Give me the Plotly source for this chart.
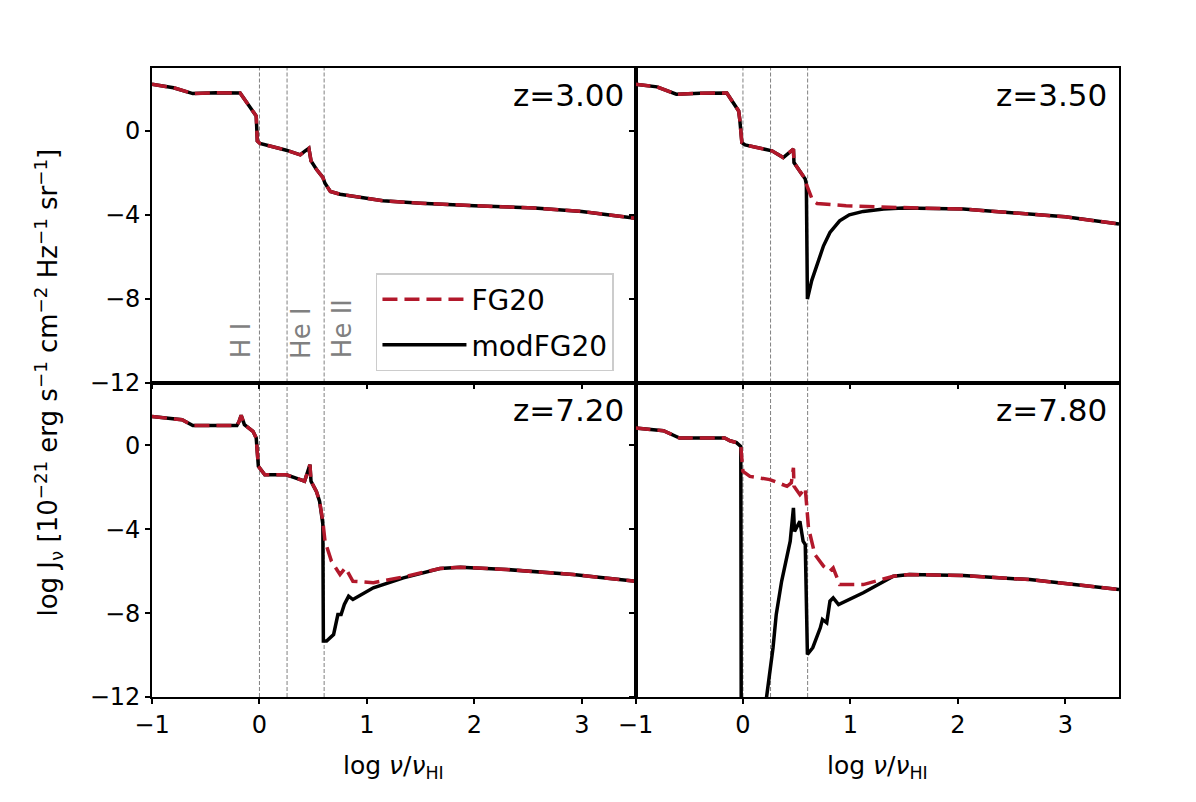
import plotly.graph_objects as go
from plotly.subplots import make_subplots

# log nu / nu_HI grid and log J_nu values
x_z300 = [-1.0, -0.80, -0.62, -0.40, -0.18, -0.15, -0.09, -0.03, -0.02, 0.005, 0.25, 0.38, 0.42, 0.46, 0.48,
          0.53, 0.59, 0.61, 0.66, 0.75, 1.15, 1.5, 2.0, 2.56, 3.0, 3.5]
fg_z300 = [2.22, 2.06, 1.78, 1.82, 1.81, 1.59, 1.19, 0.71, -0.48, -0.60, -0.92, -1.14, -0.98, -0.83, -1.43,
           -1.83, -2.22, -2.5, -2.89, -3.02, -3.33, -3.45, -3.57, -3.68, -3.84, -4.17]
mod_z300 = fg_z300

x_z350 = [-1.0, -0.80, -0.62, -0.40, -0.15, -0.12, -0.04, -0.03, -0.01, 0.02, 0.27, 0.375, 0.43, 0.47, 0.475,
          0.53, 0.58, 0.59, 0.65, 0.69, 0.96, 1.43, 2.05, 2.67, 3.0, 3.5]
fg_z350 = [2.22, 2.1, 1.75, 1.80, 1.81, 1.59, 0.95, 0.56, -0.56, -0.67, -0.95, -1.27, -1.03, -0.87, -1.51,
           -1.9, -2.30, -2.54, -3.33, -3.46, -3.57, -3.65, -3.73, -3.97, -4.1, -4.44]
xm_z350 = [-1.0, -0.80, -0.62, -0.40, -0.15, -0.12, -0.04, -0.03, -0.01, 0.02, 0.27, 0.375, 0.43, 0.47, 0.475,
           0.53, 0.58, 0.59, 0.60, 0.64, 0.69, 0.75, 0.81, 0.90, 0.99, 1.12, 1.31, 1.49, 2.05, 2.67, 3.0, 3.5]
mod_z350 = [2.22, 2.1, 1.75, 1.80, 1.81, 1.59, 0.95, 0.56, -0.56, -0.67, -0.95, -1.27, -1.03, -0.87, -1.51,
            -1.9, -2.30, -2.54, -8.02, -7.14, -6.35, -5.48, -4.84, -4.29, -4.0, -3.84, -3.72, -3.68, -3.73,
            -3.97, -4.1, -4.44]

x_z720 = [-1.0, -0.72, -0.62, -0.40, -0.21, -0.19, -0.17, -0.14, -0.06, -0.03, -0.01, 0.05, 0.25, 0.38, 0.42,
          0.45, 0.47, 0.48, 0.53, 0.56, 0.59, 0.61, 0.67, 0.75, 0.80, 0.87, 1.06, 1.37, 1.68, 1.87, 2.30, 2.92, 3.5]
fg_z720 = [1.38, 1.22, 0.95, 0.95, 0.95, 1.14, 1.43, 0.99, 0.67, 0.35, -1.0, -1.40, -1.40, -1.63, -1.71,
           -1.24, -0.92, -1.71, -2.19, -2.67, -3.62, -4.57, -5.52, -6.16, -5.84, -6.48, -6.55, -6.24, -5.87,
           -5.81, -5.92, -6.16, -6.48]
xm_z720 = [-1.0, -0.72, -0.62, -0.40, -0.21, -0.19, -0.17, -0.14, -0.06, -0.03, -0.01, 0.05, 0.25, 0.38, 0.42,
           0.45, 0.47, 0.48, 0.53, 0.56, 0.59, 0.595, 0.625, 0.69, 0.73, 0.76, 0.79, 0.83, 0.87, 1.06, 1.34,
           1.68, 1.87, 2.30, 2.92, 3.5]
mod_z720 = [1.38, 1.22, 0.95, 0.95, 0.95, 1.14, 1.43, 0.99, 0.67, 0.35, -1.0, -1.40, -1.40, -1.63, -1.71,
            -1.24, -0.92, -1.71, -2.19, -2.67, -3.75, -9.33, -9.33, -9.02, -8.07, -8.07, -7.59, -7.19, -7.35,
            -6.79, -6.32, -5.87, -5.81, -5.92, -6.16, -6.48]

x_z780 = [-1.0, -0.74, -0.59, -0.40, -0.17, -0.12, -0.06, -0.02, 0.0, 0.065, 0.25, 0.41, 0.45, 0.47, 0.475,
          0.53, 0.56, 0.58, 0.61, 0.67, 0.75, 0.81, 0.84, 0.90, 1.12, 1.40, 1.55, 2.05, 2.67, 3.5]
fg_z780 = [0.83, 0.70, 0.35, 0.35, 0.35, 0.22, 0.13, -0.05, -1.24, -1.48, -1.63, -1.95, -1.79, -1.07, -1.95,
           -2.35, -2.19, -2.03, -3.94, -5.21, -5.76, -6.0, -5.84, -6.64, -6.64, -6.24, -6.16, -6.21, -6.40, -6.87]
xm_z780 = [-1.0, -0.74, -0.59, -0.40, -0.17, -0.12, -0.06, -0.02, -0.015, 0.20, 0.22, 0.28, 0.31, 0.36, 0.44,
           0.47, 0.48, 0.53, 0.56, 0.58, 0.60, 0.65, 0.72, 0.74, 0.78, 0.81, 0.84, 0.89, 1.12, 1.40, 1.55, 2.05,
           2.67, 3.5]
mod_z780 = [0.83, 0.70, 0.35, 0.35, 0.35, 0.22, 0.13, -0.05, -16.0, -16.0, -12.0, -9.65, -8.06, -6.48, -4.57,
            -2.98, -4.1, -3.62, -4.57, -4.73, -9.97, -9.65, -8.7, -8.3, -8.46, -7.43, -7.27, -7.59, -7.03,
            -6.24, -6.16, -6.21, -6.40, -6.87]

panels = [
    ("z=3.00", 1, 1, x_z300, fg_z300, x_z300, mod_z300),
    ("z=3.50", 1, 2, x_z350, fg_z350, xm_z350, mod_z350),
    ("z=7.20", 2, 1, x_z720, fg_z720, xm_z720, mod_z720),
    ("z=7.80", 2, 2, x_z780, fg_z780, xm_z780, mod_z780),
]

edges = [0.0, 0.257, 0.602]
edge_names = ["H I", "He I", "He II"]
edge_label_x = [-0.17, 0.386, 0.77]

red = "#b2182b"
font = "DejaVu Sans"

fig = make_subplots(rows=2, cols=2, shared_xaxes=True, shared_yaxes=True,
                    horizontal_spacing=0, vertical_spacing=0)

for i, (label, r, c, xf, yf, xm, ym) in enumerate(panels):
    first = i == 0
    fig.add_trace(go.Scatter(x=xm, y=ym, mode="lines", name="modFG20", legendrank=2,
                             line=dict(color="black", width=3.5), showlegend=first,
                             legendgroup="mod"), row=r, col=c)
    fig.add_trace(go.Scatter(x=xf, y=yf, mode="lines", name="FG20", legendrank=1,
                             line=dict(color=red, width=3.5, dash="15px,7px"), showlegend=first,
                             legendgroup="fg"), row=r, col=c)
    fig.add_annotation(text=label, x=1, y=0.914, xref="x domain", yref="y domain",
                       xanchor="right", yanchor="middle", xshift=-10, showarrow=False,
                       font=dict(size=31, color="black", family=font), row=r, col=c)

for e in edges:
    fig.add_vline(x=e, line=dict(color="#808080", width=1, dash="4px,2px"), layer="below",
                  row="all", col="all")

for name, xl in zip(edge_names, edge_label_x):
    fig.add_annotation(text=name, x=xl, y=-10.95, textangle=-90, xanchor="center", yanchor="bottom",
                       showarrow=False, font=dict(size=26, color="#808080", family=font), row=1, col=1)

fig.update_xaxes(range=[-1, 3.5], tick0=0, dtick=1, showline=True, linecolor="black", linewidth=1.6,
                 mirror=True, ticks="outside", ticklen=5, tickwidth=1.6, tickcolor="black",
                 showgrid=False, zeroline=False, tickfont=dict(size=24))
fig.update_yaxes(range=[-12, 3], tick0=0, dtick=4, showline=True, linecolor="black", linewidth=1.6,
                 mirror=True, ticks="outside", ticklen=5, tickwidth=1.6, tickcolor="black",
                 showgrid=False, zeroline=False, tickfont=dict(size=24))

xtitle = "log <i>ν</i>/<i>ν</i><sub>HI</sub>"
for xc in [0.25, 0.75]:
    fig.add_annotation(text=xtitle, x=xc, y=-0.111, xref="paper", yref="paper", xanchor="center",
                       yanchor="middle", showarrow=False, font=dict(size=25, color="black", family=font))

fig.add_annotation(text="log J<sub>ν</sub> [10<sup>−21</sup> erg s<sup>−1</sup> cm<sup>−2</sup> "
                        "Hz<sup>−1</sup> sr<sup>−1</sup>]",
                   x=-0.1075, y=0.5, xref="paper", yref="paper", textangle=-90,
                   xanchor="center", yanchor="middle", showarrow=False,
                   font=dict(size=26, color="black", family=font))

# the page body adds 8px, so the margins are 8px smaller on the left and top
fig.update_layout(
    width=1196, height=802,
    margin=dict(l=144, r=85, t=60, b=113),
    paper_bgcolor="white", plot_bgcolor="white",
    font=dict(family=font, size=24, color="black"),
    legend=dict(x=0.2316, y=0.674, xanchor="left", yanchor="top", bgcolor="rgba(255,255,255,0.8)",
                bordercolor="#cccccc", borderwidth=1.5, font=dict(size=28), tracegroupgap=6,
                itemwidth=84),
)

fig.write_html("out.html")
